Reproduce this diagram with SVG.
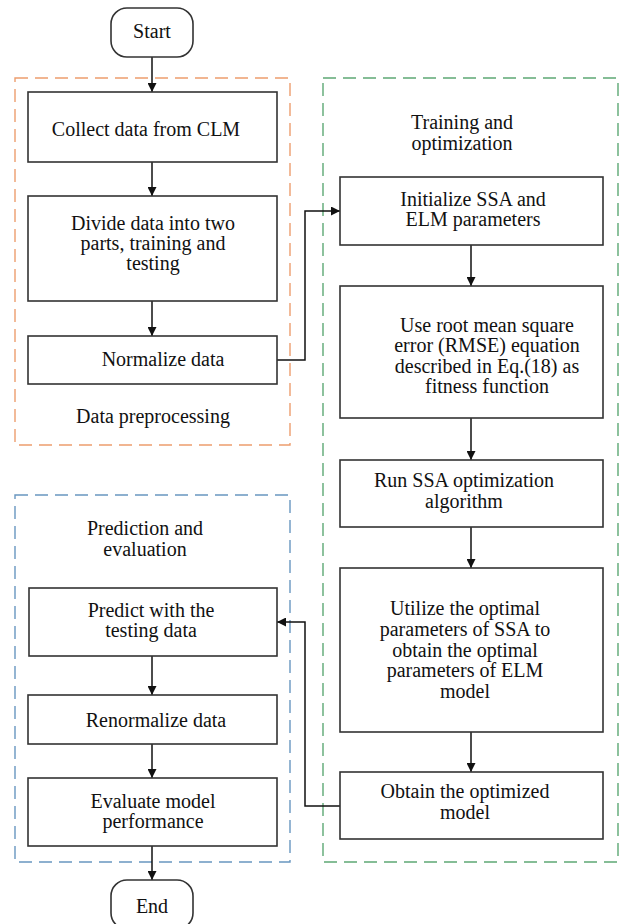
<svg xmlns="http://www.w3.org/2000/svg" width="621" height="924" viewBox="0 0 621 924">
  <style>
    .box { fill: #ffffff; stroke: #333333; stroke-width: 1.6; }
    .term { fill: #ffffff; stroke: #333333; stroke-width: 1.6; }
    .lbl { font-family: "Liberation Serif", "Times New Roman", serif; font-size: 20px; fill: #111111; text-anchor: middle; }
    .grp { fill: none; stroke-width: 1.4; stroke-dasharray: 13 7; }
    .edge { fill: none; stroke: #111111; stroke-width: 1.5; marker-end: url(#arrow); }
  </style>
  <defs>
    <marker id="arrow" viewBox="0 0 10 10" refX="10" refY="5" markerUnits="userSpaceOnUse" markerWidth="9" markerHeight="9" orient="auto">
      <path d="M0,0 L10,5 L0,10 z" fill="#111111"/>
    </marker>
  </defs>
  <rect width="621" height="924" fill="#ffffff"/>

  <!-- stage frames -->
  <g id="frames">
    <rect id="frame-preprocessing" class="grp" x="15" y="78" width="275" height="367" stroke="#ED9D6E"/>
    <rect id="frame-training" class="grp" x="323" y="78" width="295" height="784" stroke="#5DA874"/>
    <rect id="frame-prediction" class="grp" x="15" y="495" width="275" height="367" stroke="#6896C0"/>
    <text class="lbl" x="153" y="423">Data preprocessing</text>
    <text class="lbl" x="462" y="129">Training and</text>
    <text class="lbl" x="462" y="150">optimization</text>
    <text class="lbl" x="145" y="535">Prediction and</text>
    <text class="lbl" x="145" y="556">evaluation</text>
  </g>

  <!-- connectors -->
  <g id="connectors">
    <line class="edge" x1="152" y1="57" x2="152" y2="92"/>
    <line class="edge" x1="152" y1="162" x2="152" y2="196"/>
    <line class="edge" x1="152" y1="301" x2="152" y2="336"/>
    <polyline class="edge" points="277,360 305,360 305,211 340,211"/>
    <line class="edge" x1="471" y1="245" x2="471" y2="286"/>
    <line class="edge" x1="471" y1="418" x2="471" y2="460"/>
    <line class="edge" x1="471" y1="527" x2="471" y2="568"/>
    <line class="edge" x1="471" y1="732" x2="471" y2="772"/>
    <polyline class="edge" points="340,806 305,806 305,622 277,622"/>
    <line class="edge" x1="152" y1="656" x2="152" y2="695"/>
    <line class="edge" x1="152" y1="744" x2="152" y2="778"/>
    <line class="edge" x1="152" y1="846" x2="152" y2="880"/>
  </g>

  <g id="start">
    <rect class="term" x="111" y="8" width="82" height="49" rx="16" ry="16"/>
    <text class="lbl" x="152" y="38">Start</text>
  </g>

  <g id="collect">
    <rect class="box" x="28" y="92" width="249" height="70"/>
    <text class="lbl" x="146" y="136">Collect data from CLM</text>
  </g>

  <g id="divide">
    <rect class="box" x="28" y="196" width="249" height="105"/>
    <text class="lbl" x="153" y="230">Divide data into two</text>
    <text class="lbl" x="153" y="250">parts, training and</text>
    <text class="lbl" x="153" y="270">testing</text>
  </g>

  <g id="normalize">
    <rect class="box" x="28" y="336" width="249" height="48"/>
    <text class="lbl" x="163" y="366">Normalize data</text>
  </g>

  <g id="initialize">
    <rect class="box" x="340" y="177" width="263" height="68"/>
    <text class="lbl" x="473" y="206">Initialize SSA and</text>
    <text class="lbl" x="473" y="226">ELM parameters</text>
  </g>

  <g id="fitness">
    <rect class="box" x="340" y="286" width="263" height="132"/>
    <text class="lbl" x="487" y="332">Use root mean square</text>
    <text class="lbl" x="487" y="352">error (RMSE) equation</text>
    <text class="lbl" x="487" y="373">described in Eq.(18) as</text>
    <text class="lbl" x="487" y="393">fitness function</text>
  </g>

  <g id="run-ssa">
    <rect class="box" x="340" y="460" width="263" height="67"/>
    <text class="lbl" x="464" y="487">Run SSA optimization</text>
    <text class="lbl" x="464" y="508">algorithm</text>
  </g>

  <g id="utilize">
    <rect class="box" x="340" y="568" width="263" height="164"/>
    <text class="lbl" x="465" y="615">Utilize the optimal</text>
    <text class="lbl" x="465" y="636">parameters of SSA to</text>
    <text class="lbl" x="465" y="657">obtain the optimal</text>
    <text class="lbl" x="465" y="677">parameters of ELM</text>
    <text class="lbl" x="465" y="698">model</text>
  </g>

  <g id="obtain">
    <rect class="box" x="340" y="772" width="263" height="67"/>
    <text class="lbl" x="465" y="798">Obtain the optimized</text>
    <text class="lbl" x="465" y="819">model</text>
  </g>

  <g id="predict">
    <rect class="box" x="29" y="588" width="248" height="68"/>
    <text class="lbl" x="151" y="617">Predict with the</text>
    <text class="lbl" x="151" y="637">testing data</text>
  </g>

  <g id="renormalize">
    <rect class="box" x="28" y="695" width="249" height="49"/>
    <text class="lbl" x="156" y="727">Renormalize data</text>
  </g>

  <g id="evaluate">
    <rect class="box" x="28" y="778" width="249" height="68"/>
    <text class="lbl" x="153" y="808">Evaluate model</text>
    <text class="lbl" x="153" y="828">performance</text>
  </g>

  <g id="end">
    <rect class="term" x="111" y="880" width="82" height="49" rx="16" ry="16"/>
    <text class="lbl" x="152" y="913">End</text>
  </g>
</svg>
